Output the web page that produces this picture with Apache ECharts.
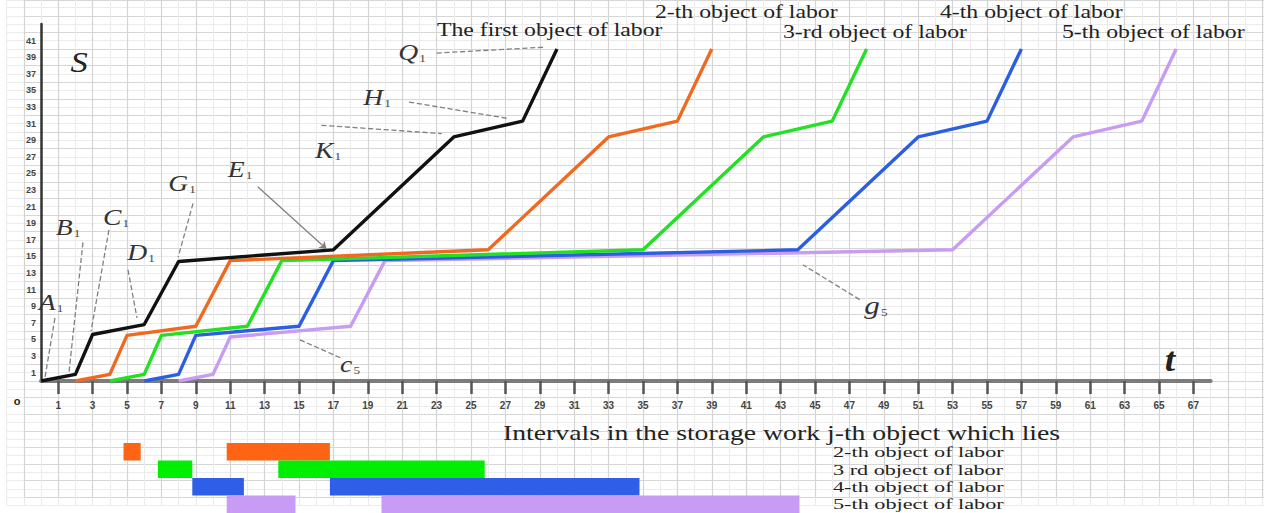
<!DOCTYPE html>
<html><head><meta charset="utf-8">
<script src="https://cdn.jsdelivr.net/npm/echarts@6/dist/echarts.min.js"></script>
<style>html,body{margin:0;padding:0;background:#fff}#c{width:1264px;height:513px}</style>
</head><body><div id="c"></div>
<script>
// ---- data ----
const xTicks = [1,3,5,7,9,11,13,15,17,19,21,23,25,27,29,31,33,35,37,39,41,43,45,47,49,51,53,55,57,59,61,63,65,67];
const yTicks = [1,3,5,7,9,11,13,15,17,19,21,23,25,27,29,31,33,35,37,39,41];

const tBlack  = [0, 2, 3, 6, 8, 17, 24, 28, 30];
const sBlack  = [0, 0.8, 5.6, 6.8, 14.4, 15.8, 29.4, 31.3, 40];
const tOrange = [2, 4, 5, 9, 11, 26, 33, 37, 39];
const sOrange = [0, 0.8, 5.5, 6.6, 14.5, 15.8, 29.4, 31.3, 40];
const tGreen  = [4, 6, 7, 12, 14, 35, 42, 46, 48];
const sGreen  = [0, 0.8, 5.5, 6.6, 14.5, 15.8, 29.4, 31.3, 40];
const tBlue   = [6, 8, 9, 15, 17, 44, 51, 55, 57];
const sBlue   = [0, 0.8, 5.5, 6.6, 14.5, 15.8, 29.4, 31.3, 40];
const tPurple = [8, 10, 11, 18, 20, 53, 60, 64, 66];
const sPurple = [0, 0.8, 5.3, 6.6, 14.5, 15.8, 29.4, 31.3, 40];

const storageRows  = ['2-th object of labor', '3 rd object of labor', '4-th object of labor', '5-th object of labor'];
const storageStart = [[5, 11], [7, 14], [9, 17], [11, 20]];
const storageEnd   = [[6, 17], [9, 26], [12, 35], [15, 44.3]];

// leader lines [t, S] (label end -> point end)
const leaderNames = ['A', 'B', 'C', 'D', 'G', 'E', 'K', 'H', 'Q', 'g5', 'c5'];
const leaderFrom = [[0.81, 7.6], [2.44, 16.7], [3.95, 18.2], [5.06, 13.4], [8.84, 21.4], [12.6, 23.4], [16.3, 30.8], [21.4, 33.6], [23.0, 39.5], [47.6, 9.8], [17.4, 2.8]];
const leaderTo   = [[0.23, 0.4], [1.63, 1.1], [2.91, 6.0], [5.58, 7.6], [7.97, 14.9], [16.6, 15.9], [23.3, 29.8], [27.2, 31.6], [29.2, 40.2], [44.3, 14.0], [14.9, 5.1]];

// ---- styles ----
const cBlack = '#111111', cOrange = '#ef6a20', cGreen = '#22e022', cBlue = '#2b5ee2', cPurple = '#c79cf2';
const barColors = ['#ff6414', '#00ee00', '#2e5fe6', '#c89bf5'];
const serif = '"Liberation Serif","Times New Roman",serif';
const sans = '"Liberation Sans",Arial,sans-serif';

const zip = (t, s) => t.map((v, i) => [v, s[i]]);

const chart = echarts.init(document.getElementById('c'), null, {renderer: 'svg'});

function lineSeries(name, t, s, color, z) {
  return {type: 'line', name, xAxisIndex: 2, yAxisIndex: 2, data: zip(t, s), symbol: 'none',
    lineStyle: {color, width: 3.4, join: 'round'}, z, silent: true, animation: false};
}

const ganttData = [];
storageStart.forEach((arr, r) => arr.forEach((st, i) => ganttData.push([r, st, storageEnd[r][i]])));

const leaders = leaderFrom.map((f, i) => ({
  coords: [f, leaderTo[i]],
  lineStyle: {type: leaderNames[i] === 'E' ? 'solid' : 'dashed'},
  symbol: leaderNames[i] === 'E' ? ['none', 'arrow'] : ['none', 'none'],
  symbolSize: 7
}));

function label(x, y, main, sub, size) {
  size = size || 23;
  return {type: 'text', x, y, scaleX: 1.2, z: 50,
    style: {text: '{m|' + main + '}{s|' + sub + '}', align: 'center', verticalAlign: 'middle',
      rich: {m: {font: 'italic ' + size + 'px ' + serif, fill: '#333', lineHeight: size + 4},
             s: {font: '11px ' + serif, fill: '#444', verticalAlign: 'bottom', lineHeight: 12, padding: [0, 0, 2, 1]}}}};
}
function txt(x, y, text, font, align, sx) {
  return {type: 'text', x, y, scaleX: sx || 1, z: 50,
    style: {text, font, fill: '#222', align: align || 'left', verticalAlign: 'middle'}};
}

const option = {
  backgroundColor: '#ffffff',
  animation: false,
  grid: [
    {left: 6.6, right: 0, top: 0, bottom: 7.5},
    {left: 23.8, right: 0, top: 0, bottom: 15.8},
    {left: 41, right: 53.4, top: 24, bottom: 132},
    {left: 37.5, right: 56.9, top: 443, bottom: 0}
  ],
  xAxis: [
    {gridIndex: 0, type: 'value', min: 0, max: 1257.4, interval: 17.2, axisLine: {show: false}, axisTick: {show: false}, axisLabel: {show: false},
      splitLine: {show: true, lineStyle: {color: '#ebebeb', width: 1}}},
    {gridIndex: 1, type: 'value', min: 0, max: 1240.2, interval: 34.4, axisLine: {show: false}, axisTick: {show: false}, axisLabel: {show: false},
      splitLine: {show: true, lineStyle: {color: '#d4d4d4', width: 1.2}}},
    {gridIndex: 2, type: 'value', min: 0, max: 68, interval: 1,
      axisLine: {show: true, onZero: false, lineStyle: {color: '#7c7c7c', width: 4}},
      axisTick: {show: true, customValues: xTicks, length: 13, lineStyle: {color: '#555', width: 2.5}},
      axisLabel: {show: true, customValues: xTicks, margin: 19, color: '#444', fontSize: 10, fontWeight: 'bold', fontFamily: sans},
      splitLine: {show: false}},
    {gridIndex: 3, type: 'value', min: 0, max: 68, show: false}
  ],
  yAxis: [
    {gridIndex: 0, type: 'value', min: 0, max: 505.5, interval: 8.3, axisLine: {show: false}, axisTick: {show: false}, axisLabel: {show: false},
      splitLine: {show: true, lineStyle: {color: '#ececec', width: 1}}},
    {gridIndex: 1, type: 'value', min: 0, max: 497.2, interval: 16.6, axisLine: {show: false}, axisTick: {show: false}, axisLabel: {show: false},
      splitLine: {show: true, lineStyle: {color: '#d6d6d6', width: 1.2}}},
    {gridIndex: 2, type: 'value', min: 0, max: 43, interval: 1,
      axisLine: {show: true, onZero: false, lineStyle: {color: '#333', width: 2.5}},
      axisTick: {show: false},
      axisLabel: {show: true, customValues: yTicks, margin: 5, color: '#444', fontSize: 9, fontWeight: 'bold', fontFamily: sans},
      splitLine: {show: false}},
    {gridIndex: 3, type: 'category', data: storageRows, inverse: true, show: false}
  ],
  series: [
    lineSeries('5', tPurple, sPurple, cPurple, 3),
    lineSeries('4', tBlue, sBlue, cBlue, 4),
    lineSeries('3', tGreen, sGreen, cGreen, 5),
    lineSeries('2', tOrange, sOrange, cOrange, 6),
    lineSeries('1', tBlack, sBlack, cBlack, 7),
    {type: 'lines', coordinateSystem: 'cartesian2d', xAxisIndex: 2, yAxisIndex: 2, polyline: false, z: 8,
      lineStyle: {color: '#808080', width: 1.3, opacity: 1}, data: leaders, silent: true},
    {type: 'custom', xAxisIndex: 3, yAxisIndex: 3, data: ganttData, encode: {x: [1, 2], y: 0}, z: 5,
      renderItem: function (params, api) {
        const r = api.value(0);
        const s = api.coord([api.value(1), r]);
        const e = api.coord([api.value(2), r]);
        const h = api.size([0, 1])[1];
        return {type: 'rect', shape: {x: s[0], y: s[1] - h / 2, width: e[0] - s[0], height: h}, style: {fill: barColors[r]}};
      }}
  ],
  graphic: [
    txt(79, 62, 'S', 'italic 30px ' + serif, 'center', 1.15),
    txt(1170, 360, 't', 'italic bold 34px ' + serif, 'center', 1.1),
    txt(17, 401, 'o', 'bold 11px ' + sans, 'center', 1),
    label(51, 302, 'A', '1'), label(68, 227, 'B', '1'), label(116, 217, 'C', '1'),
    label(141, 252, 'D', '1'), label(182, 183, 'G', '1'), label(240, 169, 'E', '1'),
    label(328, 150, 'K', '1'), label(377, 97, 'H', '1'), label(412, 52, 'Q', '1'),
    label(876, 305, 'g', '5', 26), label(350, 364, 'c', '5'),
    txt(437, 30, 'The first object of labor', '19px ' + serif, 'left', 1.25),
    txt(655, 12, '2-th object of labor', '19px ' + serif, 'left', 1.25),
    txt(783, 32, '3-rd object of labor', '19px ' + serif, 'left', 1.25),
    txt(940, 12, '4-th object of labor', '19px ' + serif, 'left', 1.25),
    txt(1062, 32, '5-th object of labor', '19px ' + serif, 'left', 1.25),
    txt(503, 433, 'Intervals in the storage work j-th object which lies', '22px ' + serif, 'left', 1.26),
    txt(833, 452, storageRows[0], '15px ' + serif, 'left', 1.48),
    txt(833, 469.5, storageRows[1], '15px ' + serif, 'left', 1.48),
    txt(833, 487, storageRows[2], '15px ' + serif, 'left', 1.48),
    txt(833, 504, storageRows[3], '15px ' + serif, 'left', 1.48)
  ]
};
chart.setOption(option);
</script></body></html>
